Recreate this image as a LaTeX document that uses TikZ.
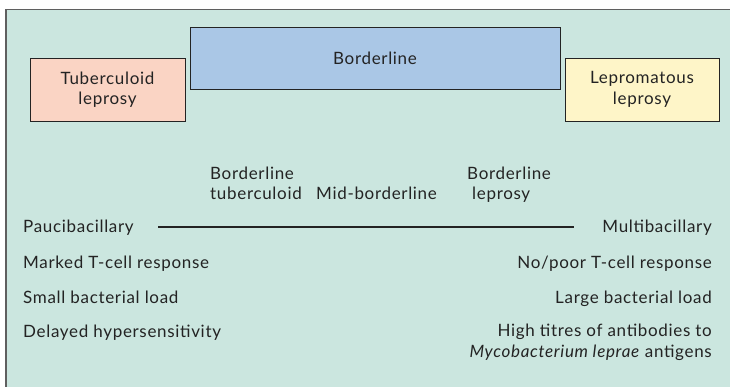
\documentclass[tikz,border=0pt]{standalone}
\usepackage{fontspec}
\setmainfont{Lato}[LetterSpace=4]
\definecolor{bgmint}{RGB}{203,230,223}
\definecolor{tbfill}{RGB}{250,212,196}
\definecolor{blfill}{RGB}{170,199,230}
\definecolor{lpfill}{RGB}{254,245,200}
\definecolor{ink}{RGB}{35,35,35}
\definecolor{framegray}{RGB}{95,95,95}
\begin{document}
\begin{tikzpicture}[x=1pt,y=-1pt,
  every node/.style={text=ink,font=\fontsize{17}{20.5}\selectfont,inner sep=0pt},
  formbox/.style={draw=ink,line width=0.9pt,align=center},
  lbl/.style={anchor=base west},
  rlbl/.style={anchor=base east},
]
\useasboundingbox (0,0) rectangle (730,387);
\fill[bgmint] (6,9.5) rectangle (730,387);
\draw[framegray,line width=1.6pt] (6,387) -- (6,9.5) -- (730,9.5);

\node[formbox,fill=blfill,minimum width=370pt,minimum height=62pt] (bl) at (375,58) {Borderline};
\node[formbox,fill=tbfill,minimum width=155pt,minimum height=63pt] (tb) at (107.5,89.5) {Tuberculoid\\leprosy};
\node[formbox,fill=lpfill,minimum width=154pt,minimum height=63pt] (lp) at (642,89.5) {Lepromatous\\leprosy};

\node[lbl,align=left] (bt) at (210,200) {Borderline\\tuberculoid};
\node[lbl] (mb) at (316,200) {Mid-borderline};
\node[lbl,align=left] (blp) at (467,200) {Borderline\\\hspace*{5pt}leprosy};

\node[lbl] (pauci) at (23,233) {Paucibacillary};
\node[rlbl] (multi) at (712,233) {Multibacillary};
\coordinate (lineL) at (158,227);
\coordinate (lineR) at (574,227);
\draw[ink,line width=1.4pt] (lineL) -- (lineR);

\node[lbl] (tcellL) at (23,268) {Marked T-cell response};
\node[rlbl] (tcellR) at (712,268) {No/poor T-cell response};
\node[lbl] (loadL) at (23,303) {Small bacterial load};
\node[rlbl] (loadR) at (712,303) {Large bacterial load};
\node[lbl] (dh) at (23,337) {Delayed hypersensitivity};
\node[rlbl,align=right] (ab) at (712,357) {High titres of antibodies to\\\textit{Mycobacterium leprae} antigens};
\end{tikzpicture}
\end{document}
